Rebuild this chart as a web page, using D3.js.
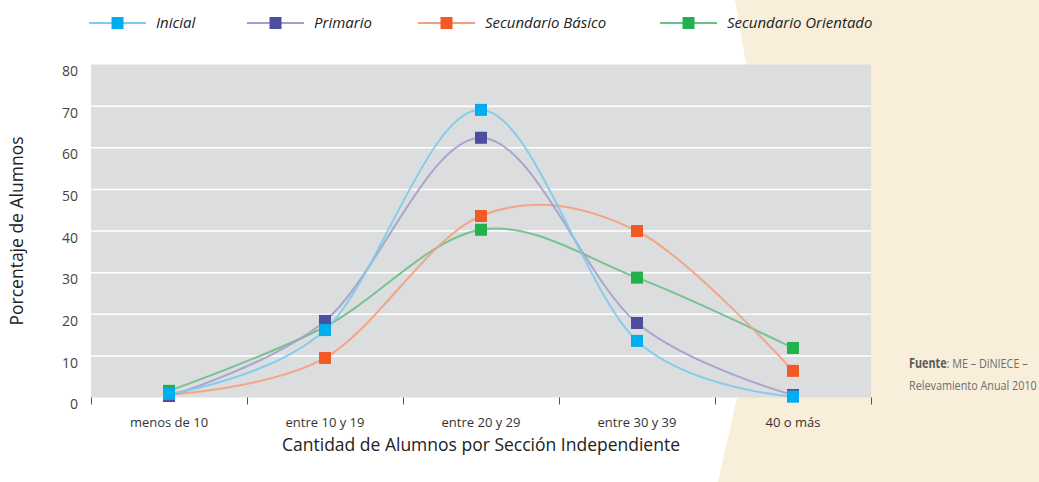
<!DOCTYPE html>
<html>
<head>
<meta charset="utf-8">
<script src="https://cdn.jsdelivr.net/npm/d3@7"></script>
<style>
  body { margin: 0; background: #fff; }
  svg { display: block; font-family: 'Open Sans', 'Noto Sans', sans-serif; }
</style>
</head>
<body>
<svg id="chart" width="1039" height="482"></svg>
<script>
const categories = ['menos de 10', 'entre 10 y 19', 'entre 20 y 29', 'entre 30 y 39', '40 o más']
const seriesNames = ['Inicial', 'Primario', 'Secundario Básico', 'Secundario Orientado']
const inicial = [0.85, 16.2, 69.1, 13.6, 0.2]
const primario = [0.35, 18.4, 62.4, 17.9, 0.6]
const secBasico = [0.7, 9.5, 43.6, 40.0, 6.4]
const secOrientado = [1.6, 17.0, 40.3, 28.8, 11.9]
const yTicks = [0, 10, 20, 30, 40, 50, 60, 70, 80]

const lineColors = ['#7ccbec', '#a49dcc', '#f5a07c', '#6bbf88']
const markColors = ['#00adee', '#4e4ea0', '#f15a25', '#22b14c']

const margin = { left: 91, right: 168, top: 64.5, bottom: 84.5 }
const width = 1039
const height = 482
const innerW = width - margin.left - margin.right
const innerH = height - margin.top - margin.bottom

const svg = d3.select('#chart')

// beige background on the right
svg.append('path')
  .attr('d', 'M735,0 L746,64 L737,398 L718,482 L1039,482 L1039,0 Z')
  .attr('fill', '#f8eeda')

const x = d3.scaleBand().domain(categories).range([0, innerW])
const xEdges = d3.scaleLinear().domain([0, categories.length]).range([0, innerW])
const y = d3.scaleLinear().domain([0, 80]).range([innerH, 0])

const g = svg.append('g')
  .attr('transform', `translate(${margin.left},${margin.top})`)

g.append('rect')
  .attr('width', innerW)
  .attr('height', innerH)
  .attr('fill', '#dcdddf')

// white gridlines
g.selectAll('.grid')
  .data(yTicks.filter(d => d > 0 && d < 80))
  .join('line')
  .attr('x1', 0)
  .attr('x2', innerW)
  .attr('y1', d => y(d))
  .attr('y2', d => y(d))
  .attr('stroke', '#fff')
  .attr('stroke-width', 1.5)

// x axis: ticks on band edges, labels at centres
const xTickAxis = d3.axisBottom(xEdges)
  .tickValues(d3.range(categories.length + 1))
  .tickFormat('')
  .tickSize(7)
  .tickSizeOuter(0)
const xTickG = g.append('g')
  .attr('transform', `translate(0,${innerH})`)
  .call(xTickAxis)
xTickG.select('.domain').remove()
xTickG.selectAll('line').attr('stroke', '#555')

const xLabelG = g.append('g')
  .attr('transform', `translate(0,${innerH})`)
  .call(d3.axisBottom(x).tickSize(0))
xLabelG.select('.domain').remove()
xLabelG.selectAll('text')
  .attr('dy', 0)
  .attr('y', 29)
  .attr('font-size', 13)
  .attr('font-family', "'Open Sans', sans-serif")
  .attr('fill', '#333')

// y axis labels
const yAxisG = g.append('g')
  .call(d3.axisLeft(y).tickValues(yTicks).tickSize(0).tickPadding(13))
yAxisG.select('.domain').remove()
yAxisG.selectAll('text')
  .attr('dy', '0.8em')
  .attr('font-size', 14)
  .attr('font-family', "'Open Sans', sans-serif")
  .attr('fill', '#444')

// axis titles
svg.append('text')
  .attr('transform', `translate(23,${margin.top + innerH / 2}) rotate(-90)`)
  .attr('text-anchor', 'middle')
  .attr('font-size', 17.5)
  .attr('fill', '#222')
  .text('Porcentaje de Alumnos')

svg.append('text')
  .attr('x', margin.left + innerW / 2)
  .attr('y', 451)
  .attr('text-anchor', 'middle')
  .attr('font-size', 17.5)
  .attr('fill', '#222')
  .text('Cantidad de Alumnos por Sección Independiente')

// series
const series = [inicial, primario, secBasico, secOrientado].map((vals, i) => ({
  name: seriesNames[i],
  line: lineColors[i],
  mark: markColors[i],
  values: vals.map((v, j) => ({ cat: categories[j], v: v }))
}))

const line = d3.line()
  .x(d => x(d.cat) + x.bandwidth() / 2)
  .y(d => y(d.v))
  .curve(d3.curveCatmullRom.alpha(0))

const drawOrder = series.slice().reverse()

g.selectAll('.series-line')
  .data(drawOrder)
  .join('path')
  .attr('d', d => line(d.values))
  .attr('fill', 'none')
  .attr('stroke', d => d.line)
  .attr('stroke-width', 2)
  .attr('stroke-opacity', 0.9)

drawOrder.forEach(s => {
  g.selectAll(null)
    .data(s.values)
    .join('rect')
    .attr('x', d => x(d.cat) + x.bandwidth() / 2 - 6)
    .attr('y', d => y(d.v) - 6)
    .attr('width', 12)
    .attr('height', 12)
    .attr('fill', s.mark)
})

// legend
const legendX = [89, 247, 418, 660]
const legend = svg.append('g')
series.forEach((s, i) => {
  const lg = legend.append('g').attr('transform', `translate(${legendX[i]},23)`)
  lg.append('line')
    .attr('x1', 0).attr('x2', 57)
    .attr('stroke', s.line).attr('stroke-width', 2)
  lg.append('rect')
    .attr('x', 22.5).attr('y', -6)
    .attr('width', 12).attr('height', 12)
    .attr('fill', s.mark)
  lg.append('text')
    .attr('x', 67)
    .attr('dy', '0.35em')
    .attr('font-size', 15)
    .attr('font-style', 'italic')
    .attr('fill', '#222')
    .text(s.name)
})

// source note, squeezed horizontally to look condensed
const note = svg.append('g')
  .attr('transform', 'translate(909,0) scale(0.8,1)')
  .attr('font-size', 13.5)
  .attr('fill', '#6d6e71')
const noteLine1 = note.append('text').attr('x', 0).attr('y', 368)
noteLine1.append('tspan').attr('font-weight', 'bold').attr('fill', '#58595b').text('Fuente')
noteLine1.append('tspan').text(': ME – DiNIECE –')
note.append('text').attr('x', 0).attr('y', 390).text('Relevamiento Anual 2010')
</script>
</body>
</html>
